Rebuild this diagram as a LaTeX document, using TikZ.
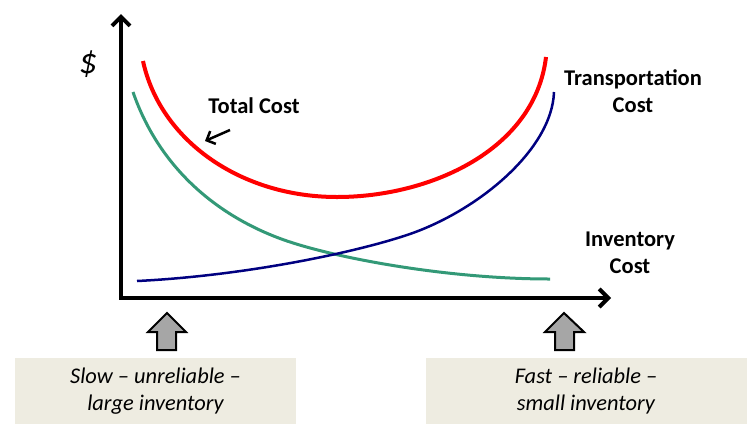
\documentclass[tikz,border=0pt]{standalone}
\usepackage{fontspec}
\setmainfont{Carlito}
\usetikzlibrary{arrows.meta}
\definecolor{boxbg}{HTML}{EEECE1}
\definecolor{tcred}{HTML}{FF0000}
\definecolor{trblue}{HTML}{000080}
\definecolor{invgreen}{HTML}{339977}
\definecolor{blockgray}{HTML}{A6A6A6}
\tikzset{
  axis/.style={line width=4pt, -{Straight Barb[length=9pt,width=18pt,line width=4pt]}},
  curvelbl/.style={font=\fontsize{22.5}{27.5}\selectfont\bfseries, align=center},
  infobox/.style={fill=boxbg, minimum width=281pt, minimum height=66pt, inner sep=0pt,
     font=\fontsize{22.4}{27}\selectfont\itshape, align=center},
  blockarrow/.style={fill=blockgray, draw=black, line width=2pt, line join=miter}
}
\begin{document}
\begin{tikzpicture}[x=1pt,y=-1pt]
\useasboundingbox (0,0) rectangle (749,424);
% axes
\coordinate (O) at (121,298);
\coordinate (Ytop) at (121,14);
\coordinate (Xend) at (611,298);
\draw[axis] (O) -- (Ytop);
\draw[axis] ([xshift=-2pt]O) -- (Xend);
\node[font=\fontsize{36}{38}\selectfont\itshape] (dollar) at (88,64) {\$};
% curves
\draw[invgreen, line width=3pt] (133,92) .. controls (160,170) and (220,218) .. (287,241)
   .. controls (340,259) and (450,279) .. (550,279);
\draw[trblue, line width=2.5pt] (137,281) .. controls (240,276) and (350,254) .. (407,235)
   .. controls (477,211.7) and (552,150) .. (554,92);
\draw[tcred, line width=4pt] (143,61) .. controls (160,140) and (240,197) .. (337,197)
   .. controls (430,197) and (535,150) .. (546,57);
% labels
\node[curvelbl] (tc) at (254,106) {Total Cost};
\coordinate (tcfrom) at (230,130);
\coordinate (tcto) at (205,141);
\draw[line width=2.5pt, -{Straight Barb[length=7pt,width=14pt,line width=2.5pt]}] (tcfrom) -- (tcto);
\node[curvelbl] (trc) at (633,91) {Transportation\\Cost};
\node[curvelbl] (invc) at (630,253) {Inventory\\Cost};
% block arrows
\draw[blockarrow] (157,350) -- (157,332) -- (148,332) -- (167,313) -- (186,332) -- (176,332) -- (176,350) -- cycle;
\draw[blockarrow] (555,350) -- (555,332) -- (545,332) -- (564,313) -- (584,332) -- (574,332) -- (574,350) -- cycle;
% boxes
\node[infobox] (slow) at (155.5,391) {Slow -- unreliable --\\large inventory};
\node[infobox, minimum width=321pt] (fast) at (586,391) {Fast -- reliable --\\small inventory};
\end{tikzpicture}
\end{document}
